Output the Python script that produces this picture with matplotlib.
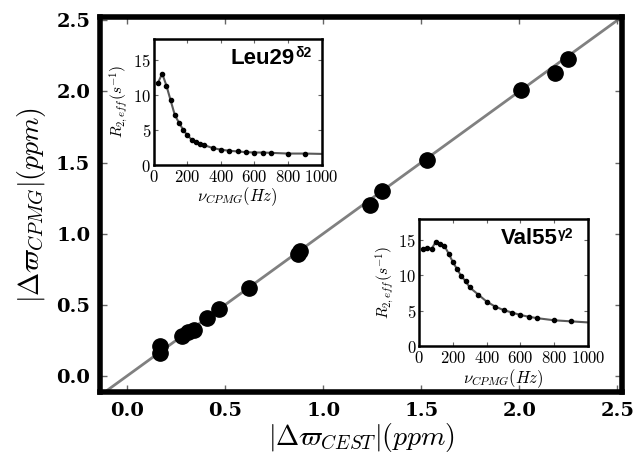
import numpy as np
import matplotlib
matplotlib.use('Agg')
import matplotlib.pyplot as plt
from matplotlib.ticker import FuncFormatter

plt.rcParams['mathtext.fontset'] = 'cm'

# main correlation data
dw_cest = [0.17, 0.17, 0.28, 0.31, 0.34, 0.41, 0.47, 0.62, 0.87, 0.88, 1.24, 1.30, 1.53, 2.01, 2.18, 2.25]
dw_cpmg = [0.21, 0.16, 0.28, 0.31, 0.32, 0.41, 0.47, 0.62, 0.86, 0.88, 1.20, 1.30, 1.52, 2.01, 2.13, 2.23]

# relaxation dispersion profiles
nu_cpmg = [25, 50, 75, 100, 125, 150, 175, 200, 225, 250, 275, 300,
           350, 400, 450, 500, 550, 600, 650, 700, 800, 900]
r2_leu = [11.7, 13.0, 11.3, 9.2, 7.1, 6.0, 5.0, 4.2, 3.6, 3.2, 3.0, 2.8,
          2.4, 2.15, 2.0, 1.9, 1.8, 1.75, 1.75, 1.7, 1.6, 1.6]
r2_val = [13.7, 13.9, 13.8, 14.8, 14.5, 14.2, 13.1, 11.9, 10.9, 9.9, 9.2, 8.3,
          7.3, 6.3, 5.6, 5.1, 4.75, 4.4, 4.15, 3.95, 3.65, 3.5]
leu_end = 1.55
val_end = 3.35

fig = plt.figure(figsize=(6.33, 4.59), dpi=100)
ax = fig.add_axes([0.158, 0.146, 0.825, 0.816])

lims = [-0.2, 2.6]
ax.plot(lims, lims, color='0.5', lw=2, zorder=1)
ax.plot(dw_cest, dw_cpmg, 'o', color='k', ms=11, zorder=2)
ax.set_xlim(-0.138, 2.525)
ax.set_ylim(-0.113, 2.52)

ticks = [0.0, 0.5, 1.0, 1.5, 2.0, 2.5]
ax.set_xticks(ticks)
ax.set_yticks(ticks)
ax.tick_params(direction='in', length=5, width=1, pad=7,
               top=True, right=True, color='0.4')
for lab in ax.get_xticklabels() + ax.get_yticklabels():
    lab.set_family('DejaVu Serif')
    lab.set_fontweight('bold')
    lab.set_fontsize(14)
for s in ax.spines.values():
    s.set_linewidth(4)

ax.set_xlabel(r'$|\mathbf{\Delta}\varpi_{CEST}|(ppm)$', fontsize=20, labelpad=1)
ax.set_ylabel(r'$|\mathbf{\Delta}\varpi_{CPMG}|(ppm)$', fontsize=20, labelpad=6)


def inset(rect, r2, r_end, name, sup, bx, by):
    ia = fig.add_axes(rect)
    ia.plot(nu_cpmg + [1000], r2 + [r_end], color='0.35', lw=1.5, zorder=1)
    ia.plot(nu_cpmg, r2, 'o', color='k', ms=3, zorder=2)
    ia.set_xlim(0, 1000)
    ia.set_ylim(0, 18)
    ia.set_xticks([0, 200, 400, 600, 800, 1000])
    ia.set_yticks([0, 5, 10, 15])
    fmt = FuncFormatter(lambda v, p: r'$%d$' % v)
    ia.xaxis.set_major_formatter(fmt)
    ia.yaxis.set_major_formatter(fmt)
    ia.tick_params(direction='in', length=3, width=0.8, labelsize=12, pad=2,
                   top=True, right=True, color='0.4')
    for s in ia.spines.values():
        s.set_linewidth(1.8)
    ia.set_xlabel(r'$\nu_{CPMG}(Hz)$', fontsize=12, labelpad=0)
    ia.set_ylabel(r'$R_{2,eff}(s^{-1})$', fontsize=11, labelpad=2)
    fam = ['Liberation Sans', 'DejaVu Sans']
    t = ia.text(bx, by, name, transform=ia.transAxes, ha='right', va='baseline',
                fontsize=16, fontweight='bold', family=fam)
    ia.annotate(sup, xy=(1.0, 0.55), xycoords=t, xytext=(0.5, 0), textcoords='offset points',
                ha='left', va='baseline', fontsize=10, fontweight='bold', family=fam)
    return ia


inset([0.243, 0.641, 0.265, 0.275], r2_leu, leu_end, 'Leu29', 'δ2', 0.84, 0.80)
inset([0.662, 0.246, 0.267, 0.277], r2_val, val_end, 'Val55', 'γ2', 0.82, 0.80)

fig.savefig('out.png', dpi=100)
